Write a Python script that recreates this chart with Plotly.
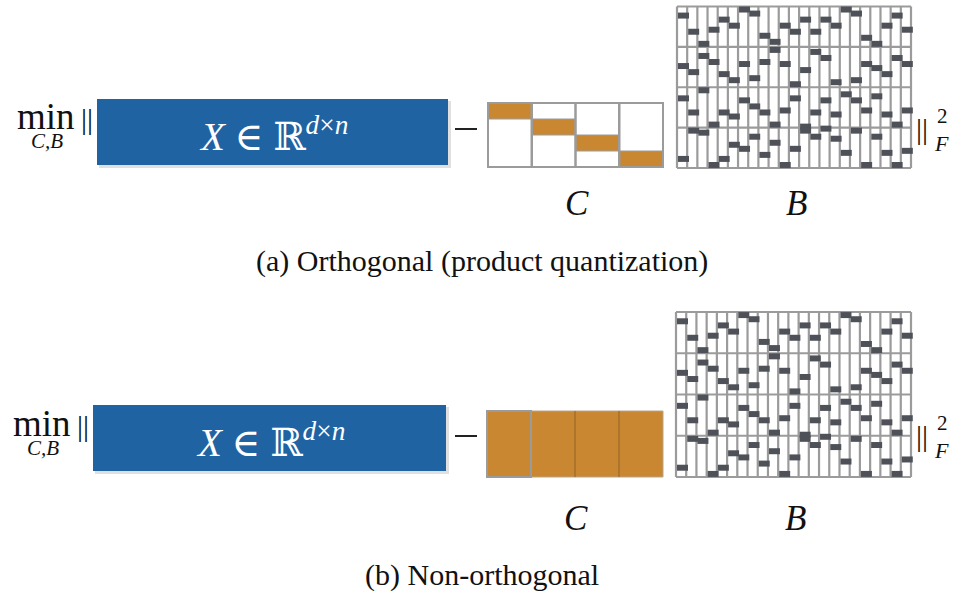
import plotly.graph_objects as go

# ---------------- data ----------------
n_points = 23        # columns of B
n_books = 4          # codebooks (row blocks of B / column blocks of C)
n_words = 20         # codewords per codebook

# codeword picked by every point in each codebook (None = empty)
codes_book1 = [4, 12, 18, 11, 6, 9, 1, 3, 14, 17, 9, 12, 6, 12, 6, 9, 1, 3, 15, 18, 9, 4, 11]
codes_book2 = [9, 12, 4, 7, 13, 16, 8, 15, 7, 1, 8, 18, 11, 2, 5, 17, None, 16, 8, 10, 13, 5, 8]
codes_book3 = [5, 12, 1, 18, 12, 14, 6, 9, 12, 18, 11, 5, 19, 12, 6, 13, 3, 6, 11, 4, 13, 18, 11]
codes_book4 = [15, 1, 2, 18, 15, 8, 10, 4, 13, 7, 18, 10, 1, 4, 0, 5, 12, 1, 18, 4, 12, 18, 11]
codes = [codes_book1, codes_book2, codes_book3, codes_book4]

# span of the d dimensions covered by each codebook in the orthogonal case
ortho_from = [0.0, 0.25, 0.5, 0.75]
ortho_to = [0.25, 0.5, 0.75, 1.0]

captions = ["(a) Orthogonal (product quantization)", "(b) Non-orthogonal"]

# ---------------- style ----------------
BLUE = "#1f63a3"
ORANGE = "#c98731"
GRID = "#9b9b9b"
MARK = "#4e5258"
SERIF = "Liberation Serif, DejaVu Serif, serif"
INK = "#111111"

panels = [
    dict(X=(97, 448, 99, 165), C=(488, 663, 103, 167), B=(677, 911, 6.5, 168),
         minus=(466, 129), norm_y=126, lab_y=203, cap_y=261, ortho=True, min_x=46),
    dict(X=(93, 446, 405, 471), C=(487, 663, 411, 477), B=(676, 911, 312, 477),
         minus=(466, 436), norm_y=433, lab_y=518, cap_y=575, ortho=False, min_x=42),
]

shapes = []
ann = []


def rect(x0, x1, y0, y1, fill=None, line=None, width=0, opacity=1.0):
    shapes.append(dict(type="rect", xref="x", yref="y", x0=x0, x1=x1, y0=y0, y1=y1,
                       fillcolor=fill if fill else "rgba(0,0,0,0)", opacity=opacity,
                       line=dict(color=line if line else "rgba(0,0,0,0)", width=width)))


def seg(x0, x1, y0, y1, color, width):
    shapes.append(dict(type="line", xref="x", yref="y", x0=x0, x1=x1, y0=y0, y1=y1,
                       line=dict(color=color, width=width)))


def text(x, y, s, size, color=INK, xanchor="center", italic=False, family=SERIF):
    ann.append(dict(x=x, y=y, xref="x", yref="y", text=s, showarrow=False,
                    xanchor=xanchor, yanchor="middle",
                    font=dict(family=family, size=size, color=color,
                              style="italic" if italic else "normal")))


for i, p in enumerate(panels):
    # ---- objective prefix: min_{C,B} || ----
    mx = p["min_x"]
    text(mx, p["norm_y"] - 10, "min", 37)
    text(mx + 1, p["norm_y"] + 15, "C,B", 21, italic=True)
    text(mx + 41, p["norm_y"] - 8, "||", 30)

    # ---- X block ----
    x0, x1, y0, y1 = p["X"]
    rect(x0 + 2, x1 + 3, y0 + 2, y1 + 3, fill="#000000", opacity=0.12)
    rect(x0, x1, y0, y1, fill=BLUE)
    text((x0 + x1) / 2 + 1, (y0 + y1) / 2 + 2,
         "<i>X</i> ∈ ℝ<sup><i>d</i>×<i>n</i></sup>", 39, color="white")

    # ---- minus ----
    seg(p["minus"][0] - 11, p["minus"][0] + 11, p["minus"][1], p["minus"][1], "#222222", 2)

    # ---- C ----
    cx0, cx1, cy0, cy1 = p["C"]
    cw = (cx1 - cx0) / n_books
    ch = cy1 - cy0
    if p["ortho"]:
        rect(cx0, cx1, cy0, cy1, fill="white")
        for m in range(n_books):
            rect(cx0 + m * cw, cx0 + (m + 1) * cw,
                 cy0 + ortho_from[m] * ch, cy0 + ortho_to[m] * ch,
                 fill=ORANGE, line=GRID, width=1)
        for m in range(1, n_books):
            seg(cx0 + m * cw, cx0 + m * cw, cy0, cy1, GRID, 2.5)
        rect(cx0, cx1, cy0, cy1, line=GRID, width=2)
    else:
        rect(cx0, cx1, cy0, cy1, fill=ORANGE, line="#b9a58a", width=1)
        for m in range(1, n_books):
            seg(cx0 + m * cw, cx0 + m * cw, cy0, cy1, "#9c6a2b", 1.2)
        rect(cx0, cx0 + cw, cy0, cy1, line=GRID, width=2)

    # ---- B ----
    bx0, bx1, by0, by1 = p["B"]
    bw = (bx1 - bx0) / n_points
    bh = (by1 - by0) / n_books
    for j in range(n_points + 1):
        seg(bx0 + j * bw, bx0 + j * bw, by0, by1, GRID, 2.2)
    for b in range(n_books + 1):
        seg(bx0, bx1, by0 + b * bh, by0 + b * bh, GRID, 2.2)
    for b, row in enumerate(codes):
        for j, k in enumerate(row):
            if k is None:
                continue
            yc = by0 + b * bh + (k + 0.5) / n_words * bh
            xl = bx0 + j * bw + 1
            rect(xl, xl + 11, yc - 3, yc + 3, fill=MARK)

    # ---- ||^2_F ----
    text(922, p["norm_y"] + 2, "||", 30)
    text(935, p["norm_y"] - 10, "2", 21, xanchor="left")
    text(932, p["norm_y"] + 17, "F", 22, xanchor="left", italic=True)

    # ---- labels and caption ----
    text((cx0 + cx1) / 2 + 1, p["lab_y"], "C", 35, italic=True)
    text((bx0 + bx1) / 2 + 2, p["lab_y"], "B", 35, italic=True)
    text(482, p["cap_y"], captions[i], 30)

fig = go.Figure()
fig.add_trace(go.Scatter(x=[0, 961], y=[0, 591], mode="markers",
                         marker=dict(opacity=0), hoverinfo="skip", showlegend=False))
fig.update_layout(
    width=961, height=591, margin=dict(l=0, r=0, t=0, b=0),
    paper_bgcolor="white", plot_bgcolor="white",
    xaxis=dict(range=[0, 961], visible=False, fixedrange=True),
    yaxis=dict(range=[591, 0], visible=False, fixedrange=True),
    shapes=shapes, annotations=ann, showlegend=False,
)
fig.write_html("out.html")
